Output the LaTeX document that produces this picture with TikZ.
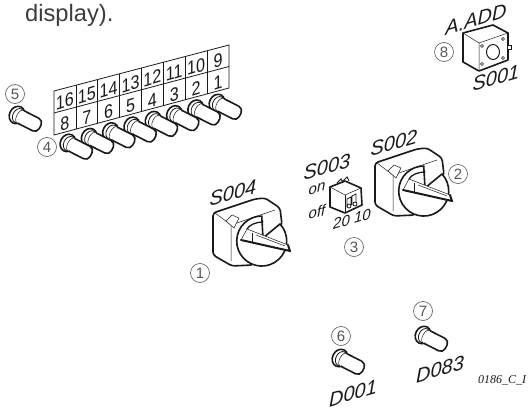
\documentclass[tikz,border=0pt]{standalone}
\usepackage{fontspec}
\setmainfont{Liberation Serif}
\setsansfont{Liberation Sans}
\usetikzlibrary{calc}
\definecolor{ink}{HTML}{1A1A1A}
\definecolor{callout}{HTML}{555555}
\begin{document}
\begin{tikzpicture}[x=1pt,y=-1pt,
 heavy/.style={draw=ink,line width=1.6pt,line join=round,line cap=round},
 fine/.style={draw=ink,line width=0.5pt},
 tag/.style={font=\fontsize{20}{20}\sffamily\itshape,text=ink,yslant=0.3,inner sep=0pt},
 small/.style={font=\fontsize{15}{15}\sffamily\itshape,text=ink,yslant=0.3,inner sep=0pt},
 digit/.style={font=\fontsize{19}{19}\sffamily,text=ink,xscale=0.85,yslant=0.26,inner sep=0pt},
 callno/.style={circle,draw=callout,line width=0.6pt,minimum size=19pt,inner sep=0pt,
 font=\fontsize{15}{15}\sffamily,text=callout},
 lamp/.pic={
  \draw[heavy,fill=white] (0,0) circle[x radius=7.5,y radius=9];
  \draw[heavy,line width=0.8pt] (1.5,0) circle[x radius=5.5,y radius=7.5];
  \draw[fine,fill=white] (3.5,0) circle[x radius=3.5,y radius=7];
  \draw[heavy,fill=white] (5,-7)--(21,-7) arc[start angle=-90,end angle=0,radius=5]--(26,2)
   arc[start angle=0,end angle=90,radius=5]--(5,7);
 },
 rotary/.pic={
  \draw[heavy,fill=white,rounded corners=3pt] (0,0)--(42,-14)--(52,-15)--(67,-5)--(69,12)
   --(40,52)--(19,53)--(0,42)--cycle;
  \draw[fine] (2,0)--(18,12)--(18,48);
  \draw[fine] (18,12)--(62,-3);
  \draw[fine,fill=white] (13,8)--(19,2)--(26,5)--(21,15)--cycle;
  \draw[heavy,fill=white] (50,25)--(67,11) arc[start angle=-43,end angle=270,radius=25]
   --cycle;
  \draw[heavy,line width=1.3pt] (34,16) .. controls (36,12) and (43,9) .. (50,9);
  \draw[fine,fill=white] (34,16)--(75,32)--(77,38)--(28,27)--cycle;
  \draw[fine] (43,22)--(72,33);
  \draw[fine] (39,20)--(39,29);
  \draw[heavy,line width=2pt] (28,27)--(77,38)--(75,32);
 }]
\useasboundingbox (0,0) rectangle (532,409);
\node[anchor=base west,inner sep=0pt,font=\fontsize{23.7}{23}\sffamily,text=ink!85] (caption) at (25,21.5) {display).};
\coordinate (pnw) at (54,91);
\coordinate (pne) at (229,45);
\coordinate (pse) at (229,88);
\coordinate (psw) at (54,135);
\draw[fine,line width=0.8pt] (pnw)--(pne)--(pse)--(psw)--cycle;
\draw[fine,line width=0.8pt] ($(pnw)!0.5!(psw)$)--($(pne)!0.5!(pse)$);
\foreach \upper/\lower [count=\i from 0] in {16/8,15/7,14/6,13/5,12/4,11/3,10/2,9/1}{
 \pgfmathsetmacro\cx{54+21.875*(\i+0.5)}
 \pgfmathsetmacro\cy{-0.263*(\cx-54)}
 \node[digit] (up\upper) at (\cx,104+\cy) {\upper};
 \node[digit] (lo\lower) at (\cx,126+\cy) {\lower};
 \ifnum\i>0
  \draw[fine,line width=0.7pt] ($(pnw)!{\i/8}!(pne)$)--($(psw)!{\i/8}!(pse)$);
 \fi
}
\foreach \n in {0,...,7}
 \pic[rotate=-27] at ({217-21.3*\n},{103+5.7*\n}) {lamp};
\pic[rotate=-27] at (17,115) {lamp};
\pic[rotate=-27] at (340,358) {lamp};
\pic[rotate=-27] at (423,335) {lamp};
\pic at (213,213) {rotary};
\pic at (375,163) {rotary};
\draw[heavy,fill=white] (330,187)--(345,181)--(361,188)--(362,205)--(345,213)--(330,207)--cycle;
\draw[fine] (330,187)--(345,195)--(361,188);
\draw[fine] (345,195)--(345,213);
\draw[fine,line width=0.9pt] (337,183)--(341,179)--(343,183) (343,181)--(347,177)--(349,181);
\draw[fine,line width=0.8pt] (347,207)--(347,199)--(351,197)--(351,205) (352,205)--(352,196)--(356,194)--(356,203);
\draw[fine,line width=0.8pt] (349,206) circle[radius=2] (355,204) circle[radius=2];
\draw[heavy,fill=white] (463,33)--(493,25)--(508,33)--(508,60)--(479,71)--(463,62)--cycle;
\draw[fine] (463,33)--(479,43)--(508,33) (479,43)--(479,71);
\draw[fine,fill=white] (508,45)--(511,45)--(511,49)--(508,49);
\draw[heavy,line width=1pt] (493,52) circle[x radius=6.5,y radius=7.5];
\foreach \hx/\hy in {482/46,503/39,503/58,482/64}
 \draw[fine] (\hx,\hy) circle[radius=1.5];
\node[tag] (s004) at (233,193) {S004};
\node[tag] (s002) at (394,143) {S002};
\node[tag] (s003) at (327,167) {S003};
\node[tag] (s001) at (496,78) {S001};
\node[tag] (aadd) at (476,19) {A.ADD};
\node[tag] (d001) at (353,393) {D001};
\node[tag] (d083) at (440,369) {D083};
\node[small] (on) at (317,189) {on};
\node[small] (off) at (317,212) {off};
\node[small] (dip) at (352,219) {20 10};
\node[anchor=base west,inner sep=0pt,font=\fontsize{12}{12}\rmfamily\itshape,text=ink] (ref) at (478,383) {0186\_C\_I};
\node[callno] (c1) at (200,273) {1};
\node[callno] (c2) at (458,174) {2};
\node[callno] (c3) at (354,247) {3};
\node[callno] (c4) at (47,147) {4};
\node[callno] (c5) at (15,94) {5};
\node[callno] (c6) at (341,336) {6};
\node[callno] (c7) at (423,311) {7};
\node[callno] (c8) at (444,52) {8};
\end{tikzpicture}
\end{document}
